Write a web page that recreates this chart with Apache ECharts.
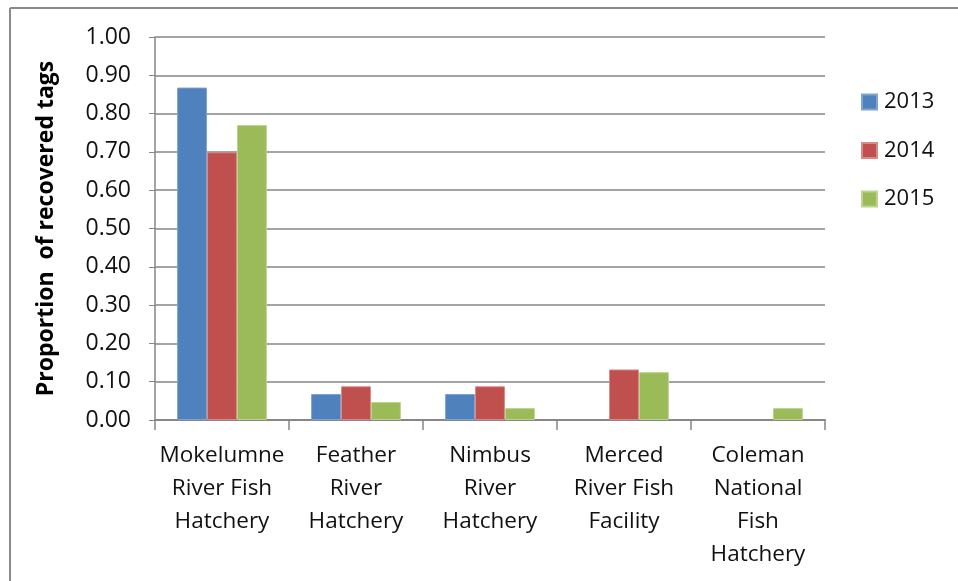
<!DOCTYPE html>
<html>
<head>
<meta charset="utf-8">
<script src="https://cdn.jsdelivr.net/npm/echarts@6/dist/echarts.min.js"></script>
<style>
html,body{margin:0;padding:0;background:#fff;}
#c{width:958px;height:581px;}
</style>
</head>
<body>
<div id="c"></div>
<script>
const categories = ['Mokelumne\nRiver Fish\nHatchery', 'Feather\nRiver\nHatchery', 'Nimbus\nRiver\nHatchery', 'Merced\nRiver Fish\nFacility', 'Coleman\nNational\nFish\nHatchery'];
const seriesNames = ['2013', '2014', '2015'];
const values2013 = [0.868, 0.068, 0.068, null, null];
const values2014 = [0.699, 0.088, 0.088, 0.132, null];
const values2015 = [0.770, 0.047, 0.031, 0.125, 0.031];
const yTicks = { min: 0, max: 1, interval: 0.1 };

const colors = ['#4F81BD', '#C0504D', '#9BBB59'];
const borders = ['#7FA3D2', '#D88A88', '#BCD48D'];
const FONT = 'Open Sans';

const chart = echarts.init(document.getElementById('c'));
const allValues = [values2013, values2014, values2015];
chart.setOption({
  animation: false,
  textStyle: { fontFamily: FONT },
  graphic: [
    { type: 'line', shape: { x1: 10, y1: 8, x2: 958, y2: 8 }, style: { stroke: '#8a8a8a', lineWidth: 2 } },
    { type: 'line', shape: { x1: 10, y1: 8, x2: 10, y2: 581 }, style: { stroke: '#8a8a8a', lineWidth: 2 } }
  ],
  grid: { left: 155, right: 133, top: 37, bottom: 161, containLabel: false },
  legend: {
    orient: 'vertical',
    left: 856,
    top: 86,
    itemWidth: 15,
    itemHeight: 15,
    itemGap: 26.5,
    icon: 'rect',
    textStyle: { fontSize: 22, color: '#111', fontFamily: FONT, padding: [0, 0, 0, 2] },
    data: seriesNames
  },
  xAxis: {
    type: 'category',
    data: categories,
    axisLine: { lineStyle: { color: '#868686', width: 2 } },
    axisTick: { show: true, length: 10, lineStyle: { color: '#868686', width: 1.5 } },
    axisLabel: { fontSize: 22.5, color: '#111', lineHeight: 33, margin: 19, interval: 0, fontFamily: FONT }
  },
  yAxis: {
    type: 'value',
    min: yTicks.min, max: yTicks.max, interval: yTicks.interval,
    name: 'Proportion  of recovered tags',
    nameLocation: 'middle',
    nameGap: 97,
    nameTextStyle: { fontSize: 23, fontWeight: 'bold', color: '#000', fontFamily: FONT },
    axisLine: { show: true, lineStyle: { color: '#868686', width: 1.5 } },
    axisTick: { show: true, length: 6, lineStyle: { color: '#868686' } },
    splitLine: { lineStyle: { color: '#868686', width: 1.5 } },
    axisLabel: { fontSize: 23, color: '#111', margin: 24, fontFamily: FONT, formatter: v => v.toFixed(2) }
  },
  series: seriesNames.map((n, i) => ({
    name: n,
    type: 'bar',
    data: allValues[i],
    barGap: '0%',
    barCategoryGap: '33%',
    itemStyle: { color: colors[i], borderColor: borders[i], borderWidth: 1 }
  }))
});
</script>
</body>
</html>
